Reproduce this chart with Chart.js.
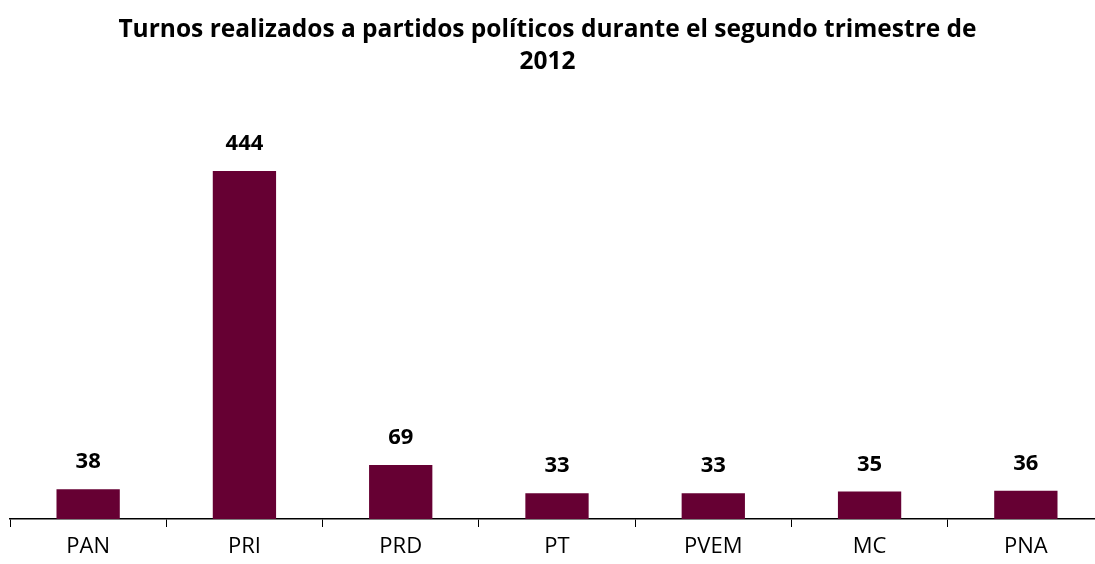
<!DOCTYPE html>
<html>
<head>
<meta charset="utf-8">
<script src="https://cdn.jsdelivr.net/npm/chart.js@4/dist/chart.umd.min.js"></script>
<style>
  html, body { margin: 0; padding: 0; background: #fff; overflow: hidden; }
  #wrap { width: 1106px; height: 564px; }
</style>
</head>
<body>
<div id="wrap"><canvas id="turnosChart"></canvas></div>
<script>
'use strict';

/* ── Data ─────────────────────────────────── */
const PARTIDOS = ['PAN', 'PRI', 'PRD', 'PT', 'PVEM', 'MC', 'PNA'];
const TURNOS   = [38, 444, 69, 33, 33, 35, 36];
const TITULO   = ['Turnos realizados a partidos políticos durante el segundo trimestre de', '2012'];

const BAR_COLOR = '#660033';
const FONT      = "'Open Sans', 'Liberation Sans', sans-serif";

/* ── Title + value labels (drawn by hand) ── */
const overlay = {
  id: 'overlay',
  afterDatasetsDraw(chart) {
    const ctx = chart.ctx;
    const meta = chart.getDatasetMeta(0);
    ctx.save();
    ctx.fillStyle = '#000';
    ctx.textAlign = 'center';
    ctx.textBaseline = 'middle';

    // title, centred on the visible page
    ctx.font = `bold 24.5px ${FONT}`;
    TITULO.forEach((line, i) => ctx.fillText(line, 547.5, 30 + i * 32));

    // values above bars
    ctx.font = `bold 22px ${FONT}`;
    meta.data.forEach((bar, i) => {
      ctx.fillText(TURNOS[i], bar.x, bar.y - 27);
    });
    ctx.restore();
  }
};

new Chart(document.getElementById('turnosChart').getContext('2d'), {
  type: 'bar',
  data: {
    labels: PARTIDOS,
    datasets: [{
      data: TURNOS,
      backgroundColor: BAR_COLOR,
      borderWidth: 0,
      categoryPercentage: 0.405,
      barPercentage: 1.0,
    }],
  },
  options: {
    responsive: true,
    maintainAspectRatio: false,
    animation: false,
    layout: { padding: { left: 10, right: 2, top: 127, bottom: 0 } },
    plugins: {
      legend: { display: false },
      tooltip: { enabled: false },
      title: { display: false },
    },
    scales: {
      x: {
        grid: { drawOnChartArea: false, color: '#000', tickLength: 8, offset: true },
        border: { color: '#000', width: 1.5 },
        ticks: { color: '#000', font: { family: FONT, size: 22 }, padding: 7 },
        afterFit: scale => { scale.height = 45; },
      },
      y: { display: false, min: 0, max: 500 },
    },
  },
  plugins: [overlay],
});
</script>
</body>
</html>
